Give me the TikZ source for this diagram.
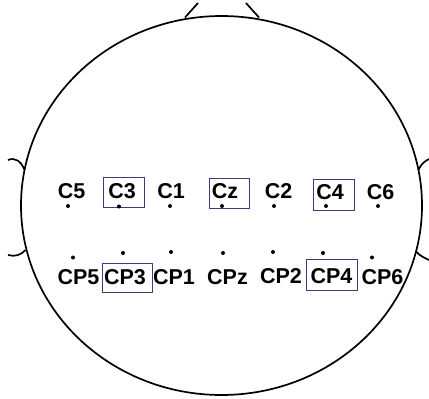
\documentclass[tikz,border=0pt]{standalone}
\usepackage{fontspec}
\setmainfont{Liberation Sans}
\definecolor{boxblue}{RGB}{60,60,125}
\begin{document}
\begin{tikzpicture}[x=1pt,y=-1pt,
  headline/.style={line width=1.7pt, black},
  elec/.style={circle, fill=black, inner sep=0pt, minimum size=4pt},
  lab/.style={anchor=base, inner sep=0pt, font=\fontsize{21.5}{21.5}\selectfont\bfseries},
  selbox/.style={draw=boxblue, line width=0.9pt, rectangle, inner sep=0pt}]
\useasboundingbox (0,0) rectangle (429,399);
% head
\draw[headline] (221.5,205.5) ellipse [x radius=200.5, y radius=189.5];
% nose
\draw[headline] (185,17.5) -- (198,3);
\draw[headline] (259,17.5) -- (246,3);
% ears
\draw[headline] (24.6,170) .. controls (21,161) and (15,157) .. (8,160);
\draw[headline] (25.5,250) .. controls (21,255) and (15,257) .. (8,255);
\draw[headline] (418.4,170) .. controls (421,164) and (425,161) .. (429,159);
\draw[headline] (416.5,252) .. controls (420,256) and (425,258) .. (429,260);
% selection boxes
\node[selbox, minimum width=41pt, minimum height=30pt] (bC3) at (123.5,192) {};
\node[selbox, minimum width=40pt, minimum height=30pt] (bCz) at (229,193) {};
\node[selbox, minimum width=41pt, minimum height=31pt] (bC4) at (333.5,194.5) {};
\node[selbox, minimum width=50pt, minimum height=29pt] (bCP3) at (127,277.5) {};
\node[selbox, minimum width=51pt, minimum height=31pt] (bCP4) at (331.5,274.5) {};
% C row electrodes
\node[elec] (eC5) at (68,206) {};
\node[elec] (eC3) at (119,206.5) {};
\node[elec] (eC1) at (170,206) {};
\node[elec] (eCz) at (222,206) {};
\node[elec] (eC2) at (274,206) {};
\node[elec] (eC4) at (326,206) {};
\node[elec] (eC6) at (378,206) {};
% CP row electrodes
\node[elec] (eCP5) at (73,257.5) {};
\node[elec] (eCP3) at (123,253) {};
\node[elec] (eCP1) at (171,252) {};
\node[elec] (eCPz) at (223,253) {};
\node[elec] (eCP2) at (273,252) {};
\node[elec] (eCP4) at (323,253) {};
\node[elec] (eCP6) at (372,257.5) {};
% C row labels
\node[lab] (lC5) at (71.5,198.5) {C5};
\node[lab] (lC3) at (122,198.5) {C3};
\node[lab] (lC1) at (171,198.5) {C1};
\node[lab] (lCz) at (225,198.5) {Cz};
\node[lab] (lC2) at (278.5,198.5) {C2};
\node[lab] (lC4) at (330,199) {C4};
\node[lab] (lC6) at (380.5,199) {C6};
% CP row labels
\node[lab] (lCP5) at (78.5,284.5) {CP5};
\node[lab] (lCP3) at (125,284.5) {CP3};
\node[lab] (lCP1) at (174,284.5) {CP1};
\node[lab] (lCPz) at (227.5,284.5) {CPz};
\node[lab] (lCP2) at (281,283.5) {CP2};
\node[lab] (lCP4) at (331.5,283.5) {CP4};
\node[lab] (lCP6) at (382.5,284.5) {CP6};
\end{tikzpicture}
\end{document}
